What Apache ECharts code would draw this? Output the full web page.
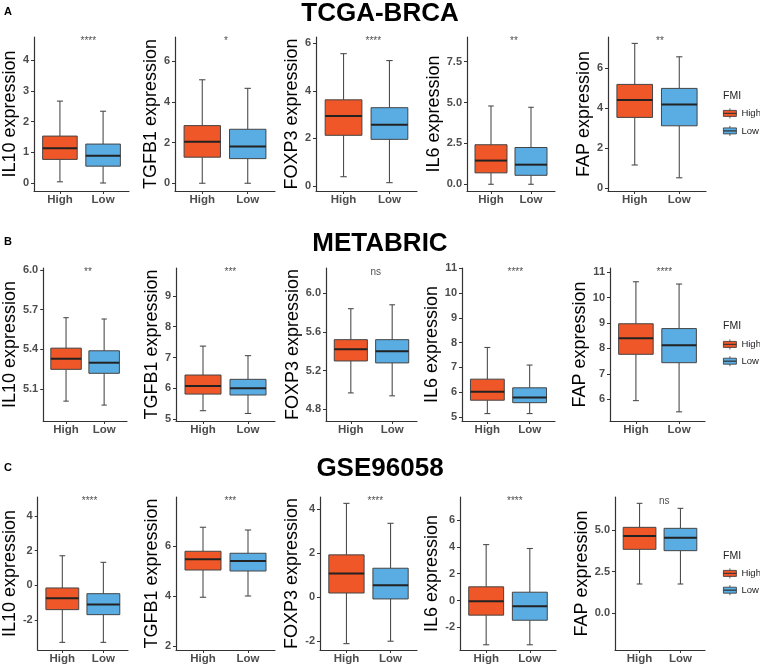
<!DOCTYPE html>
<html><head><meta charset="utf-8">
<script src="https://cdn.jsdelivr.net/npm/echarts@6/dist/echarts.min.js"></script>
<style>html,body{margin:0;padding:0;background:#fff}#c{width:760px;height:668px}</style>
</head><body><div id="c"></div>
<script>
// ---------- data ----------
const groups = ['High', 'Low'];
const datasets = ['TCGA-BRCA', 'METABRIC', 'GSE96058'];
const rowLetters = ['A', 'B', 'C'];
const genes = ['IL10', 'TGFB1', 'FOXP3', 'IL6', 'FAP'];

// box stats per gene: [lower whisker, Q1, median, Q3, upper whisker]
const tcgaHigh = [[0.04,0.77,1.13,1.53,2.67],[0,1.28,2.04,2.83,5.08],[0.39,2.13,2.94,3.62,5.56],[0,0.70,1.45,2.42,4.79],[1.17,3.55,4.42,5.20,7.25]];
const tcgaLow  = [[0,0.55,0.89,1.27,2.34],[0,1.21,1.81,2.65,4.66],[0.14,1.96,2.57,3.29,5.27],[0,0.55,1.20,2.25,4.71],[0.53,3.13,4.20,5.00,6.58]];
const metaHigh = [[5.01,5.25,5.33,5.41,5.64],[5.27,5.81,6.07,6.43,7.37],[4.97,5.30,5.42,5.52,5.84],[5.13,5.67,6.01,6.52,7.80],[5.95,7.77,8.40,8.97,10.62]];
const metaLow  = [[4.98,5.22,5.30,5.39,5.63],[5.18,5.78,6.00,6.29,7.06],[4.94,5.28,5.40,5.52,5.88],[5.13,5.57,5.78,6.17,7.09],[5.51,7.44,8.13,8.78,10.53]];
const gseHigh  = [[-3.29,-1.40,-0.75,-0.15,1.71],[3.95,5.04,5.47,5.79,6.75],[-2.13,0.18,1.07,1.92,4.27],[-3.30,-1.09,-0.05,1.02,4.17],[1.76,3.84,4.64,5.16,6.60]];
const gseLow   = [[-3.29,-1.69,-1.10,-0.48,1.33],[4.00,5.00,5.40,5.71,6.64],[-2.02,-0.09,0.53,1.31,3.36],[-3.30,-1.47,-0.42,0.62,3.88],[1.76,3.76,4.54,5.10,6.30]];

const tcgaSig = ['****', '*', '****', '**', '**'];
const metaSig = ['**', '***', 'ns', '****', '****'];
const gseSig  = ['****', '***', '****', '****', 'ns'];

const tcgaTicks = [['0','1','2','3','4'],['0','2','4','6'],['0','2','4','6'],['0.0','2.5','5.0','7.5'],['0','2','4','6']];
const metaTicks = [['5.1','5.4','5.7','6.0'],['5','6','7','8','9'],['4.8','5.2','5.6','6.0'],['5','6','7','8','9','10','11'],['6','7','8','9','10','11']];
const gseTicks  = [['-2','0','2','4'],['2','4','6'],['-2','0','2','4'],['-2','0','2','4','6'],['0.0','2.5','5.0']];

const highData = [tcgaHigh, metaHigh, gseHigh];
const lowData = [tcgaLow, metaLow, gseLow];
const sigData = [tcgaSig, metaSig, gseSig];
const tickData = [tcgaTicks, metaTicks, gseTicks];

// ---------- layout (positions / axis extents) ----------
const rows = [
  {top:37, height:154, panels:[[31,98],[175,100],[316,101],[467,88],[608,98]],
   ranges:[[-0.26,4.76],[-0.38,7.18],[-0.21,6.26],[-0.41,9.01],[-0.13,7.57]],
   nameGaps:[12,15,14,24,15], legendTop:108, legendGap:6.7, fmiTop:91, titleTop:1, letterTop:6},
  {top:268, height:153, panels:[[40,87],[176,99],[326,91],[462,93],[610,95]],
   ranges:[[4.86,6.015],[4.935,9.91],[4.68,6.26],[4.83,11.01],[5.15,11.16]],
   nameGaps:[23,15,24,20,19], legendTop:339, legendGap:6, fmiTop:321, titleTop:231, letterTop:236},
  {top:497, height:153, panels:[[35,93],[176,99],[320,97],[460,96],[615,90]],
   ranges:[[-3.73,5.10],[1.84,7.96],[-2.42,4.56],[-3.69,7.72],[-2.2,6.98]],
   nameGaps:[18,15,18,18,24], legendTop:568, legendGap:6, fmiTop:551, titleTop:456, letterTop:462}
];

const ORANGE = '#EF5728', BLUE = '#5AADE3';
const FONT = '"Liberation Sans", Arial, sans-serif';
const AX = '#333';
const TICKCOL = '#4d4d4d';

function renderBox(params, api) {
  const x = api.value(0);
  const lo = api.coord([x, api.value(1)]);
  const q1 = api.coord([x, api.value(2)]);
  const md = api.coord([x, api.value(3)]);
  const q3 = api.coord([x, api.value(4)]);
  const hi = api.coord([x, api.value(5)]);
  const bw = api.size([0.8, 0])[0] / 2;
  const cw = api.size([0.14, 0])[0] / 2;
  const cx = lo[0];
  const ws = {stroke:'#4d4d4d', lineWidth:1.1};
  return {type:'group', children:[
    {type:'line', shape:{x1:cx,y1:hi[1],x2:cx,y2:q3[1]}, style:ws},
    {type:'line', shape:{x1:cx,y1:q1[1],x2:cx,y2:lo[1]}, style:ws},
    {type:'line', shape:{x1:cx-cw,y1:hi[1],x2:cx+cw,y2:hi[1]}, style:ws},
    {type:'line', shape:{x1:cx-cw,y1:lo[1],x2:cx+cw,y2:lo[1]}, style:ws},
    {type:'rect', shape:{x:cx-bw,y:q3[1],width:2*bw,height:q1[1]-q3[1]},
     style:{fill:api.visual('color'), stroke:'#444', lineWidth:1}},
    {type:'line', shape:{x1:cx-bw,y1:md[1],x2:cx+bw,y2:md[1]}, style:{stroke:'#222', lineWidth:2}}
  ]};
}

const grid = [], xAxis = [], yAxis = [], series = [], title = [], legend = [];
const ICON = 'path://M0,2H13V5H0Z M0,5H13V8H0Z M6.5,0V2 M6.5,8V10';

rows.forEach((row, r) => {
  title.push({text: datasets[r], left:'center', top: row.titleTop, padding:0,
    textStyle:{fontSize:26, fontWeight:'bold', color:'#000', fontFamily:FONT}});
  title.push({text: rowLetters[r], left:4, top: row.letterTop, padding:0,
    textStyle:{fontSize:11, fontWeight:'bold', color:'#000', fontFamily:FONT}});
  title.push({text:'FMI', left:723, top: row.fmiTop, padding:0,
    textStyle:{fontSize:10.5, fontWeight:'normal', color:'#222', fontFamily:FONT}});
  legend.push({orient:'vertical', left:723, top: row.legendTop, padding:0,
    itemWidth:13, itemHeight:10, itemGap: row.legendGap, selectedMode:false,
    textStyle:{fontSize:9.5, color:'#222', fontFamily:FONT},
    data:[
      {name:groups[0], icon:ICON, itemStyle:{color:ORANGE, borderColor:'#333', borderWidth:0.8}},
      {name:groups[1], icon:ICON, itemStyle:{color:BLUE, borderColor:'#333', borderWidth:0.8}}
    ]});

  genes.forEach((gene, g) => {
    const gi = grid.length;
    const [left, width] = row.panels[g];
    grid.push({left, top: row.top, width, height: row.height});
    const ticks = tickData[r][g];
    const tickVals = ticks.map(Number);
    const [ymin, ymax] = row.ranges[g];
    xAxis.push({gridIndex:gi, type:'value', min:0.4, max:2.6,
      axisLine:{show:true, onZero:false, lineStyle:{color:AX, width:1.2}},
      axisTick:{show:true, length:3, customValues:[1,2], lineStyle:{color:AX, width:1}},
      axisLabel:{customValues:[1,2], formatter: v => groups[Math.round(v) - 1],
        margin:3, fontSize:11.5, fontWeight:'bold', color:TICKCOL, fontFamily:FONT},
      splitLine:{show:false}});
    yAxis.push({gridIndex:gi, type:'value', min:ymin, max:ymax,
      name: gene + ' expression', nameLocation:'middle', nameGap: row.nameGaps[g],
      nameTextStyle:{fontSize:18, color:'#000', fontFamily:FONT},
      axisLine:{show:true, onZero:false, lineStyle:{color:AX, width:1.2}},
      axisTick:{show:true, length:3, customValues:tickVals, lineStyle:{color:AX, width:1}},
      axisLabel:{customValues:tickVals, margin:5, fontSize:11, fontWeight:'bold', color:TICKCOL, fontFamily:FONT,
        formatter: v => { const i = tickVals.findIndex(t => Math.abs(t - v) < 1e-9); return i >= 0 ? ticks[i] : ''; }},
      splitLine:{show:false}});
    [highData, lowData].forEach((src, k) => {
      series.push({type:'custom', name: groups[k], xAxisIndex:gi, yAxisIndex:gi,
        itemStyle:{color: k === 0 ? ORANGE : BLUE}, renderItem: renderBox,
        encode:{x:0, y:[1,2,3,4,5]}, silent:true,
        data:[[k + 1].concat(src[r][g])]});
    });
    series.push({type:'scatter', xAxisIndex:gi, yAxisIndex:gi, symbolSize:0, silent:true, clip:false,
      data:[[1.5, ymax]],
      label:{show:true, formatter: sigData[r][g], position:'right', distance:0, offset:[-1,4],
        fontSize:10, color:'#222', fontFamily:FONT}});
  });
});

const chart = echarts.init(document.getElementById('c'), null, {renderer:'canvas'});
chart.setOption({animation:false, backgroundColor:'#fff', title, legend, grid, xAxis, yAxis, series});
</script>
</body></html>
